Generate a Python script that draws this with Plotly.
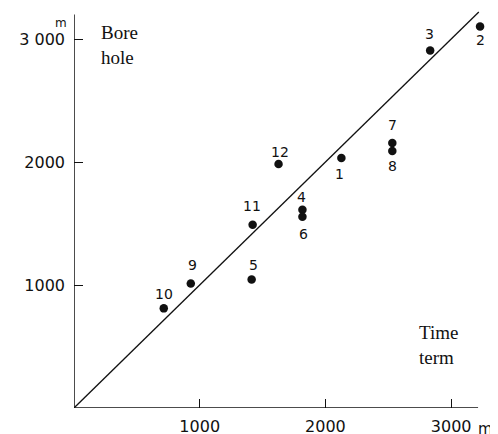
import plotly.graph_objects as go

# Data
labels = ["1", "2", "3", "4", "5", "6", "7", "8", "9", "10", "11", "12"]
time_term = [2127, 3230, 2833, 1817, 1413, 1817, 2532, 2532, 929, 714, 1421, 1627]
bore_hole = [2032, 3101, 2907, 1611, 1045, 1555, 2154, 2089, 1012, 810, 1490, 1984]
# label offsets (pixels, + is up)
label_dy = [-16, -13, 16, 13, 14, -17, 18, -15, 19, 14, 19, 12]
label_dx = [-2, 0, -1, -1, 2, 1, 0, 0, 2, 0, -1, 1]

tick_vals = [1000, 2000, 3000]
x_tick_text = ["1000", "2000", "3000"]
y_tick_text = ["1000", "2000", "3 000"]
line_end = 3220
x_axis_end = 3214
y_axis_end = 3200

NUMFONT = "DejaVu Sans"
SERIF = "Liberation Serif"

# page body adds an 8px margin; compensate
OFF = 8
L, T, B, R = 74 - OFF, 8 - OFF, 26, 8
W, H = 498 - OFF, 434 - OFF
PW, PH = W - L - R, H - T - B

fig = go.Figure()

fig.add_trace(go.Scatter(
    x=[0, line_end], y=[0, line_end], mode="lines",
    line=dict(color="#111", width=1.3), hoverinfo="skip", showlegend=False))

fig.add_trace(go.Scatter(
    x=time_term, y=bore_hole, mode="markers",
    marker=dict(color="#111", size=8.5), showlegend=False))

for lab, x, y, dx, dy in zip(labels, time_term, bore_hole, label_dx, label_dy):
    fig.add_annotation(x=x, y=y, text=lab, showarrow=False,
                       xshift=dx, yshift=dy,
                       font=dict(family=NUMFONT, size=14, color="#111"))

# axis lines
fig.add_shape(type="line", x0=0, y0=0, x1=x_axis_end, y1=0,
              line=dict(color="#111", width=1.5))
fig.add_shape(type="line", x0=0, y0=0, x1=0, y1=y_axis_end,
              line=dict(color="#111", width=1.5))

# units
fig.add_annotation(x=3000, y=0, text="m", showarrow=False, xshift=34, yshift=-21,
                   font=dict(family=NUMFONT, size=15, color="#111"))
fig.add_annotation(x=0, y=3000, text="m", showarrow=False, xshift=-13, yshift=16,
                   font=dict(family=NUMFONT, size=12, color="#111"))

# axis titles
fig.add_annotation(xref="paper", yref="paper", x=(99 - 74) / PW, y=(408 - 20) / PH,
                   xanchor="left", yanchor="top", align="left",
                   text="Bore<br>hole", showarrow=False,
                   font=dict(family=SERIF, size=19, color="#111"))
fig.add_annotation(xref="paper", yref="paper", x=(417 - 74) / PW, y=(408 - 320) / PH,
                   xanchor="left", yanchor="top", align="left",
                   text="Time<br>term", showarrow=False,
                   font=dict(family=SERIF, size=19, color="#111"))

fig.update_layout(
    width=W, height=H,
    margin=dict(l=L, r=R, t=T, b=B),
    paper_bgcolor="white", plot_bgcolor="white",
    xaxis=dict(range=[0, 3309], tickvals=tick_vals, ticktext=x_tick_text,
               ticks="inside", ticklen=9, tickwidth=1.3, tickcolor="#111",
               ticklabelstandoff=7,
               showgrid=False, zeroline=False, showline=False, automargin=False,
               tickfont=dict(family=NUMFONT, size=16, color="#111")),
    yaxis=dict(range=[0, 3252], tickvals=tick_vals, ticktext=y_tick_text,
               ticks="inside", ticklen=9, tickwidth=1.3, tickcolor="#111",
               ticklabelstandoff=8,
               showgrid=False, zeroline=False, showline=False, automargin=False,
               tickfont=dict(family=NUMFONT, size=16, color="#111")),
)

fig.write_html("out.html")
